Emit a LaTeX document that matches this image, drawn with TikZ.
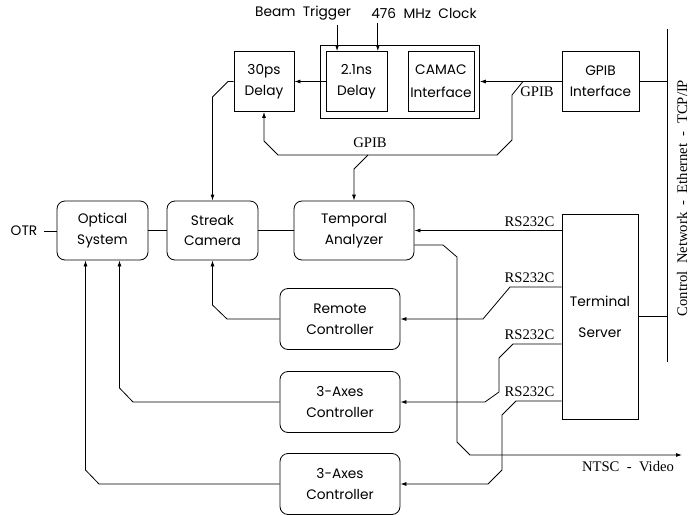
\documentclass[tikz,border=0pt]{standalone}
\usepackage{fontspec}
\newfontfamily\boxfont{Poppins}
\newfontfamily\lblfont{Liberation Serif}
\usetikzlibrary{arrows.meta,fit}

\tikzset{
  blk/.style={draw,align=center,inner sep=0pt,font=\boxfont\fontsize{10.3}{15.5}\selectfont},
  rblk/.style={blk,rounded corners=6pt},
  lbl/.style={font=\lblfont\fontsize{11}{13}\selectfont,inner sep=0pt},
  tlbl/.style={font=\boxfont\fontsize{10.3}{12}\selectfont,inner sep=0pt},
  sig/.style={-{Latex[length=4.5pt,width=3pt]}},
}

\begin{document}
\begin{tikzpicture}[x=0.75pt,y=0.75pt,yscale=-1,xscale=1,line width=0.6pt]
\useasboundingbox (0,0) rectangle (694,515);

% top row
\node[blk,minimum width=45pt,minimum height=45pt] (dly30) at (264,81.5) {30ps\\Delay};
\node[blk,minimum width=45.75pt,minimum height=45pt] (dly21) at (356.5,81.5) {2.1ns\\Delay};
\node[blk,minimum width=49.5pt,minimum height=45pt] (camac) at (441,81.5) {CAMAC\\[2pt]Interface};
\node[draw,fit=(dly21)(camac),inner xsep=3.75pt,inner ysep=4.5pt] (crate) {};
\node[blk,minimum width=57.75pt,minimum height=45pt] (gpibif) at (600.5,81.5) {GPIB\\Interface};

% inputs of the crate
\node[tlbl,inner ysep=3.5pt] (beam) at (303,13) {Beam\ \ Trigger};
\node[tlbl,inner ysep=3.5pt] (clk) at (424,13) {476\ \ MHz\ \ Clock};
\coordinate (trg) at ([xshift=-14.6pt]dly21.north);
\coordinate (clkin) at ([xshift=16pt]dly21.north);
\draw[sig] (beam.south -| trg) -- (trg);
\draw[sig] (clk.south -| clkin) -- (clkin);
\draw[sig] (dly21.west) -- (dly30.east);
\draw[sig] (gpibif.west) -- (gpibif.west -| crate.east);

% GPIB bus
\coordinate (gj) at (523,81.5);
\draw[sig] (gj) -- (512,95) -- (512,140) -- (497,155) -- (278,155) -- (264,141) -- (dly30.south);
\node[lbl] (gpib1) at (537,92) {GPIB};
\node[lbl] (gpib2) at (370,143) {GPIB};

% second row
\node[rblk,minimum width=68.25pt,minimum height=44.25pt] (optic) at (102.5,230.5) {Optical\\System};
\node[rblk,minimum width=68.25pt,minimum height=44.25pt] (streak) at (212.5,230.5) {Streak\\Camera};
\node[rblk,minimum width=90pt,minimum height=44.25pt] (ta) at (354,230.5) {Temporal\\Analyzer};
\node[tlbl,inner xsep=5pt] (otr) at (24,231) {OTR};
\draw (otr.east) -- (otr.east -| optic.west);
\draw (optic) -- (streak);
\draw (streak) -- (ta);
\draw[sig] (368,155) -- (354,169) -- (ta.north);
\draw[sig] (dly30.west) -- (228,81.5) -- (212.5,97) -- (streak.north);

% controllers
\node[rblk,minimum width=90pt,minimum height=45.75pt] (remote) at (340,319) {Remote\\Controller};
\node[rblk,minimum width=90pt,minimum height=45.75pt] (ax1) at (340,402) {3-Axes\\Controller};
\node[rblk,minimum width=90pt,minimum height=45.75pt] (ax2) at (340,484) {3-Axes\\Controller};
\draw[sig] (remote.west) -- (227,319) -- (212.5,305) -- (streak.south);
\draw[sig] (ax1.west) -- (133,402) -- (119.5,388) -- ([xshift=12.75pt]optic.south);
\draw[sig] (ax2.west) -- (99,484) -- (85.5,470) -- ([xshift=-12.75pt]optic.south);

% terminal server and network
\node[blk,minimum width=57pt,minimum height=153.75pt] (term) at (600,316.5) {Terminal\\[8pt]Server};
\coordinate (nettop) at (667,29);
\coordinate (netbot) at (667,362);
\draw (nettop) -- (netbot);
\draw (gpibif.east) -- (gpibif.east -| nettop);
\draw (term.east) -- (term.east -| nettop);
\node[lbl,rotate=90] (netlbl) at (682,198) {Control\ \ Network\ \ -\ \ Ethernet\ \ -\ \ TCP/IP};

% RS232C lines
\draw[sig] (term.west |- ta.east) -- (ta.east);
\draw[sig] (term.west |- 0,287) -- (510,287) -- (483,319) -- (remote.east);
\draw[sig] (term.west |- 0,344) -- (513,344) -- (499,358) -- (499,392) -- (485,402) -- (ax1.east);
\draw[sig] (term.west |- 0,401) -- (516,401) -- (502,415) -- (502,470) -- (488,484) -- (ax2.east);
\node[lbl] (rs1) at (529.5,222) {RS232C};
\node[lbl] (rs2) at (529.5,278) {RS232C};
\node[lbl] (rs3) at (529.5,335) {RS232C};
\node[lbl] (rs4) at (529.5,392) {RS232C};

% video output
\coordinate (vidend) at (682,455);
\draw[sig] (ta.east |- 0,245) -- (443,245) -- (457,257) -- (457,442) -- (470,455) -- (vidend);
\node[lbl] (video) at (628,467) {NTSC\ \ -\ \ Video};

\end{tikzpicture}
\end{document}
